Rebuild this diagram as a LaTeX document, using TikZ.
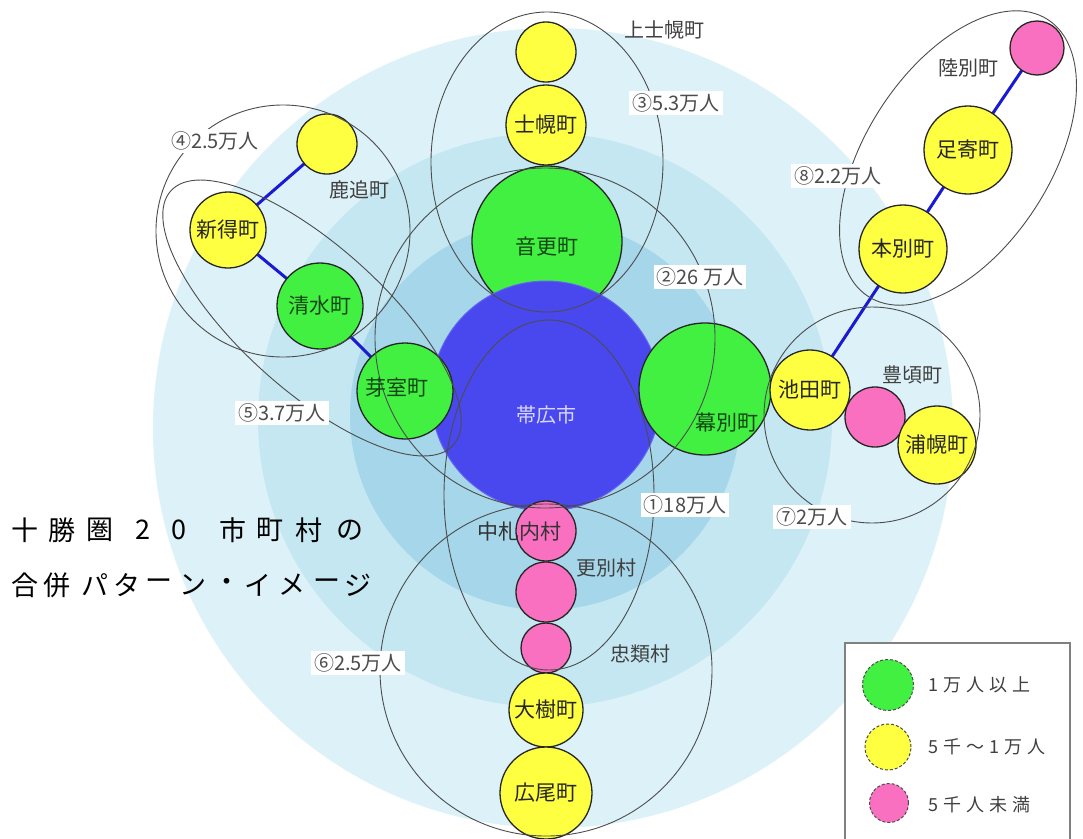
\documentclass[tikz,border=0pt]{standalone}
\usepackage{fontspec}
\setmainfont{Noto Sans CJK JP}
\definecolor{ringA}{RGB}{221,242,248}
\definecolor{ringB}{RGB}{196,231,242}
\definecolor{ringC}{RGB}{165,214,233}
\definecolor{tgreen}{RGB}{66,240,66}
\definecolor{tyellow}{RGB}{255,255,66}
\definecolor{tpink}{RGB}{250,112,192}
\definecolor{obblue}{RGB}{72,72,238}
\definecolor{linkblue}{RGB}{26,26,210}
\definecolor{gtext}{RGB}{20,70,20}
\pgfdeclarelayer{bg}
\pgfdeclarelayer{links}
\pgfsetlayers{bg,links,main}
\newcommand\lsp{\kern5pt}
\begin{document}
\begin{tikzpicture}[x=1pt,y=-1pt,
  town/.style={circle,draw=black!85,line width=1.3pt,inner sep=0pt,text=black!85,font=\fontsize{21}{21}\selectfont},
  big/.style={town,fill=tgreen,text=gtext},
  mid/.style={town,fill=tyellow},
  small/.style={town,fill=tpink},
  grp/.style={draw=black!70,line width=0.9pt},
  pop/.style={fill=white,inner sep=3pt,text=black!70,font=\fontsize{20}{20}\selectfont},
  nm/.style={text=black!75,font=\fontsize{20}{20}\selectfont,inner sep=1pt},
  link/.style={draw=linkblue,line width=3pt},
  ttl/.style={font=\fontsize{27}{27}\selectfont,inner sep=0pt},
  leg/.style={anchor=west,text=black!75,font=\fontsize{18}{18}\selectfont,inner sep=0pt},
  legdot/.style={circle,draw=black!70,densely dashed,line width=1pt,inner sep=0pt}
]
\useasboundingbox (0,0) rectangle (1083,838);
\begin{pgfonlayer}{bg}
\fill[white] (0,0) rectangle (1083,838);
\fill[ringA] (553,428) circle[radius=400];
\fill[ringB] (545,420) circle[radius=287];
\fill[ringC] (545,415) circle[radius=195];
\end{pgfonlayer}

% towns
\node[mid,minimum size=60pt] (kamishihoro) at (546,52) {};
\node[mid,minimum size=80pt] (shihoro) at (546,125) {士幌町};
\node[big,minimum size=150pt] (otofuke) at (547,241) {};
\node[text=gtext,font=\fontsize{21}{21}\selectfont] (otofukeT) at (547,247) {音更町};
\node[circle,fill=obblue,draw=obblue!85!white,line width=1pt,minimum size=230pt,inner sep=0pt] (obihiro) at (546,396) {};
\node[text={rgb,255:red,215;green,215;blue,255},font=\fontsize{20}{20}\selectfont] (obihiroT) at (546,415) {帯広市};
\node[big,minimum size=96pt] (memuro) at (405,391) {};
\node[big,minimum size=86pt] (shimizu) at (320,306) {清水町};
\node[mid,minimum size=76pt] (shintoku) at (228,230) {新得町};
\node[mid,minimum size=60pt] (shikaoi) at (327,144) {};
\node[big,minimum size=132pt] (makubetsu) at (705,389) {};
\node[mid,minimum size=80pt] (ikeda) at (810,390) {池田町};
\node[small,minimum size=60pt] (toyokoro) at (875,417) {};
\node[mid,minimum size=78pt] (urahoro) at (937,445) {浦幌町};
\node[mid,minimum size=88pt] (honbetsu) at (903,249) {本別町};
\node[mid,minimum size=88pt] (ashoro) at (968,150) {足寄町};
\node[small,minimum size=54pt] (rikubetsu) at (1037,48) {};
\node[small,minimum size=60pt] (nakasatsunai) at (546,531) {};
\node[small,minimum size=60pt] (sarabetsu) at (546,592) {};
\node[small,minimum size=50pt] (churui) at (546,648) {};
\node[mid,minimum size=74pt] (taiki) at (546,710) {大樹町};
\node[mid,minimum size=92pt] (hiroo) at (546,793) {広尾町};

% links
\begin{pgfonlayer}{links}
\draw[link] (shikaoi.center) -- (shintoku.center) -- (shimizu.center) -- (memuro.center);
\draw[link] (ikeda.center) -- (honbetsu.center) -- (ashoro.center) -- (rikubetsu.center);
\end{pgfonlayer}

% group outlines
\draw[grp] (549,495) ellipse[x radius=105,y radius=175];
\draw[grp] (545,338) circle[radius=170];
\draw[grp] (547,162) ellipse[x radius=116,y radius=150];
\draw[grp] (283,231) ellipse[x radius=127,y radius=126];
\draw[grp,rotate around={-42:(312,318)}] (312,318) ellipse[x radius=190,y radius=72];
\draw[grp] (546,670) circle[radius=166];
\draw[grp] (872,415) circle[radius=108];
\draw[grp,rotate around={57:(958,158)}] (958,158) ellipse[x radius=165,y radius=92];

% in-circle texts that are off centre
\node[text=gtext,font=\fontsize{21}{21}\selectfont,inner sep=0pt] (memuroT) at (397,388) {芽室町};
\node[text=gtext,font=\fontsize{21}{21}\selectfont,inner sep=0pt] (makubetsuT) at (727,423) {幕別町};
\node[text=black!80,font=\fontsize{21}{21}\selectfont,inner sep=0pt] (nakasatsunaiT) at (519,532) {中札内村};

% name labels
\node[nm] (kamishihoroT) at (664,30) {上士幌町};
\node[nm] (shikaoiT) at (359,190) {鹿追町};
\node[nm] (toyokoroT) at (912,375) {豊頃町};
\node[nm] (rikubetsuT) at (968,68) {陸別町};
\node[nm] (sarabetsuT) at (606,568) {更別村};
\node[nm] (churuiT) at (640,654) {忠類村};

% population labels
\node[pop] (p1) at (685,505) {①18万人};
\node[pop] (p2) at (700,277) {②26 万人};
\node[pop] (p3) at (676,103) {③5.3万人};
\node[pop] (p4) at (215,141) {④2.5万人};
\node[pop] (p5) at (282,413) {⑤3.7万人};
\node[pop] (p6) at (358,663) {⑥2.5万人};
\node[pop] (p7) at (812,517) {⑦2万人};
\node[pop] (p8) at (838,176) {⑧2.2万人};

% title
\foreach \c/\x [count=\i] in {十/25,勝/62,圏/100,2/143,0/179,市/233,町/270,村/309,の/350}
  \node[ttl] (ta\i) at (\x,530) {\c};
\foreach \c/\x [count=\i] in {合/25,併/57,パ/95,タ/127,ー/159,ン/193,・/227,イ/258,メ/292,ー/327,ジ/358}
  \node[ttl] (tb\i) at (\x,585) {\c};

% legend
\draw[draw=black!50,line width=1.3pt,fill=white] (845,845) -- (845,643) -- (1070,643) -- (1070,845);
\node[legdot,fill=tgreen,minimum size=51pt] (lg1) at (888,685) {};
\node[legdot,fill=tyellow,minimum size=46pt] (lg2) at (888,747) {};
\node[legdot,fill=tpink,minimum size=39pt] (lg3) at (889,803) {};
\node[leg] (lt1) at (928,685) {1\lsp 万\lsp 人\lsp 以\lsp 上};
\node[leg] (lt2) at (928,747) {5\lsp 千\lsp ～\lsp 1\lsp 万\lsp 人};
\node[leg] (lt3) at (928,805) {5\lsp 千\lsp 人\lsp 未\lsp 満};
\end{tikzpicture}
\end{document}
